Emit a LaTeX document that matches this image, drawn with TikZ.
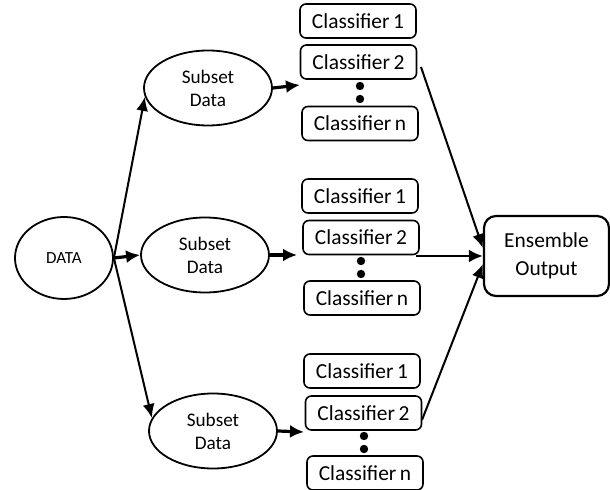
\documentclass[tikz,border=0pt]{standalone}
\usepackage{fontspec}
\setmainfont{Carlito}
\usetikzlibrary{shapes.geometric, arrows.meta}

\begin{document}
\begin{tikzpicture}[x = 0.5pt, y = -0.5pt,
		setell/.style = {ellipse, draw, line width = 0.9pt, inner sep = 0pt, align = center},
		clbox/.style = {draw, rounded corners = 3pt, line width = 0.8pt, minimum width = 58pt, minimum height = 17pt, inner sep = 0pt, font = \fontsize{10.7}{12}\selectfont},
		dotmark/.style = {circle, fill, inner sep = 0pt, minimum size = 4.2pt},
		thick arrow/.style = {-{Latex[length = 7pt, width = 6.5pt]}, line width = 1.6pt},
		thin arrow/.style = {-{Latex[length = 7pt, width = 6pt]}, line width = 1pt}]
		\useasboundingbox (0,0) rectangle (610,490);
		
		% data and subsets
		\node [setell, minimum width = 49pt, minimum height = 41pt, font = \fontsize{8.5}{10}\selectfont] (data) at (64,258) {DATA};
		\node [setell, minimum width = 64pt, minimum height = 37.5pt, font = \fontsize{9.6}{11.5}\selectfont] (sub1) at (208,88) {Subset\\Data};
		\node [setell, minimum width = 64pt, minimum height = 37.5pt, font = \fontsize{9.6}{11.5}\selectfont] (sub2) at (205,255) {Subset\\Data};
		\node [setell, minimum width = 64pt, minimum height = 37.5pt, font = \fontsize{9.6}{11.5}\selectfont] (sub3) at (213,431) {Subset\\Data};
		
		% classifiers
		\node [clbox] (c11) at (358,21) {Classifier\,1};
		\node [clbox] (c12) at (358.5,62) {Classifier\,2};
		\node [clbox] (c1n) at (360,123.5) {Classifier\,n};
		\node [dotmark] (d11) at (360,86) {};
		\node [dotmark] (d12) at (360,99) {};
		
		\node [clbox] (c21) at (360,196) {Classifier\,1};
		\node [clbox] (c22) at (361,237.5) {Classifier\,2};
		\node [clbox] (c2n) at (362,298) {Classifier\,n};
		\node [dotmark] (d21) at (361,261) {};
		\node [dotmark] (d22) at (361,274) {};
		
		\node [clbox] (c31) at (362,371) {Classifier\,1};
		\node [clbox] (c32) at (363.5,413) {Classifier\,2};
		\node [clbox] (c3n) at (365,473) {Classifier\,n};
		\node [dotmark] (d31) at (364,436) {};
		\node [dotmark] (d32) at (364,449) {};
		
		\node [draw, rounded corners = 6pt, line width = 1.1pt, minimum width = 62.5pt, minimum height = 40pt, align = center, font = \fontsize{10.7}{14}\selectfont] (ens) at (546.5,256) {Ensemble\\Output};
		
		\coordinate (in1) at (300,85);
		\coordinate (in2) at (297,255);
		\coordinate (in3) at (304,432);
		\coordinate (out1) at (421,67);
		\coordinate (out2) at (416,256);
		\coordinate (out3) at (422,420);
		
		\draw [thick arrow] (data.east) -- (sub2.west);
		\draw [thin arrow] (data.east) -- (sub1.188);
		\draw [thin arrow] (data.east) -- (sub3.168);
		
		\draw [thick arrow] (sub1.east) -- (in1);
		\draw [thick arrow] (sub2.east) -- (in2);
		\draw [thick arrow] (sub3.east) -- (in3);
		
		\draw [thin arrow] (out1) -- ([yshift = 4pt]ens.west);
		\draw [thick arrow, line width = 1.3pt] (out2) -- (ens.west);
		\draw [thin arrow] (out3) -- ([yshift = -4pt]ens.west);
	\end{tikzpicture}
\end{document}
